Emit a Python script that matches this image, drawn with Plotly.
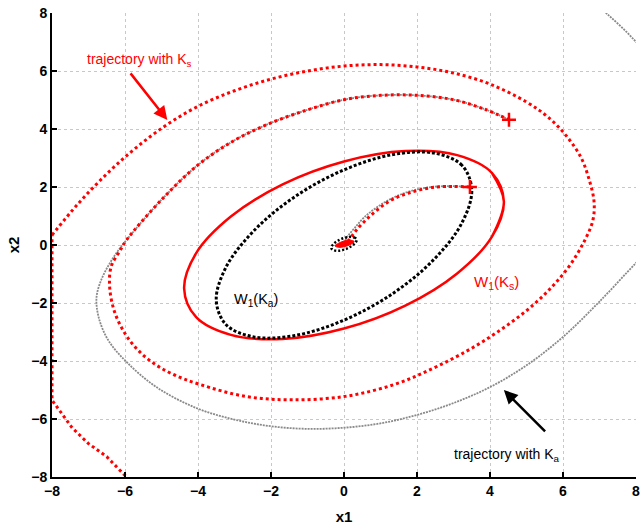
import plotly.graph_objects as go

# ---------------- data ----------------
# trajectory with Ks : clipped piece along the left border and bottom-left
ks_edge_x = [-5.80, -5.96, -6.50, -7.00, -7.45, -8.00, -8.00]
ks_edge_y = [-8.30, -8.00, -7.30, -6.85, -6.30, -5.35, 0.34]

# trajectory with Ks : outer loop (clockwise) from the left border
ks_outer_x = [-8.00, -7.30, -6.50, -5.70, -4.85, -3.97, -3.00, -2.00, -1.00, 0.00, 1.00, 2.00,
              3.00, 4.00, 5.00, 5.60, 6.10, 6.50, 6.72, 6.85, 6.82, 6.60, 6.10, 5.20, 3.84,
              2.56, 1.40, 0.03, -1.44, -2.70, -3.97, -4.70, -5.25, -5.70, -6.05, -6.30,
              -6.42, -6.38, -6.14]
ks_outer_y = [0.34, 1.40, 2.45, 3.35, 4.15, 4.80, 5.32, 5.72, 6.00, 6.17, 6.22, 6.14,
              5.93, 5.55, 4.93, 4.40, 3.75, 3.00, 2.24, 1.50, 0.86, 0.17, -0.85, -2.05, -3.30,
              -4.18, -4.80, -5.22, -5.34, -5.22, -4.80, -4.45, -4.05, -3.55, -2.95, -2.25,
              -1.45, -0.75, -0.20]

# shared inner arc (both trajectories) ending at the start mark
inner_x = [-5.96, -5.00, -4.00, -3.00, -2.00, -1.00, 0.00, 1.00, 2.00, 3.00, 3.84, 4.52]
inner_y = [0.17, 1.56, 2.76, 3.61, 4.21, 4.66, 5.01, 5.16, 5.16, 5.01, 4.69, 4.32]

# trajectory with Ka (grey) before it joins the inner arc
ka_x = [6.60, 7.18, 8.00, 8.70, 9.10, 9.10, 8.90, 8.50, 8.00, 7.00, 6.00, 5.00, 4.00, 3.00,
        2.00, 1.00, 0.00, -1.00, -2.00, -3.00, -4.05, -5.14, -5.96, -6.45, -6.72, -6.78,
        -6.65, -6.45, -6.22]
ka_y = [8.60, 8.00, 7.00, 5.80, 4.00, 2.00, 0.90, 0.00, -0.62, -1.95, -3.17, -4.15, -4.90,
        -5.45, -5.86, -6.15, -6.30, -6.34, -6.25, -6.02, -5.62, -4.90, -4.03, -3.30, -2.50,
        -1.80, -1.20, -0.70, -0.25]

# second pair of trajectories from the inner start mark to the origin
ks2_x = [3.45, 3.00, 2.40, 1.80, 1.30, 0.90, 0.55, 0.30, 0.12, 0.00]
ks2_y = [2.00, 2.02, 1.98, 1.80, 1.55, 1.20, 0.80, 0.45, 0.15, 0.00]
ka2_x = [3.45, 3.00, 2.40, 1.80, 1.30, 0.90, 0.55, 0.30, 0.10, 0.00, -0.10]
ka2_y = [2.00, 2.03, 2.00, 1.85, 1.60, 1.30, 0.95, 0.60, 0.30, 0.10, 0.00]

# start marks
start_x = [4.52, 3.45]
start_y = [4.32, 2.00]

# W1(Ks) ellipse (red solid), wrapped for a smooth close
w1ks_x = [4.05, 4.38, 4.05, 3.10, 1.68, 0.00, -1.68, -3.10, -4.05, -4.38, -4.05, -3.10, -1.68,
          0.00, 1.68, 3.10, 4.05, 4.38, 4.05]
w1ks_y = [0.28, 1.50, 2.49, 3.10, 3.24, 2.88, 2.09, 0.98, -0.28, -1.50, -2.49, -3.10, -3.24,
          -2.88, -2.09, -0.98, 0.28, 1.50, 2.49]

# W1(Ka) ellipse (black dotted)
w1ka_x = [3.50, 3.23, 2.47, 1.34, 0.00, -1.34, -2.47, -3.23, -3.50, -3.23, -2.47, -1.34,
          0.00, 1.34, 2.47, 3.23, 3.50]
w1ka_y = [1.90, 2.75, 3.17, 3.12, 2.59, 1.67, 0.49, -0.76, -1.90, -2.75, -3.17, -3.12,
          -2.59, -1.67, -0.49, 0.76, 1.90]

# small ellipse and red blob at the origin
small_x = [0.35, 0.30, 0.15, 0.00, -0.15, -0.30, -0.35, -0.30, -0.15, 0.00, 0.15, 0.30, 0.35]
small_y = [0.18, 0.25, 0.28, 0.24, 0.16, 0.02, -0.10, -0.17, -0.20, -0.16, -0.08, 0.06, 0.18]
blob_x = [0.28, 0.15, 0.00, -0.15, -0.25, -0.15, 0.00, 0.15, 0.28]
blob_y = [0.12, 0.17, 0.14, 0.06, -0.03, -0.08, -0.06, 0.00, 0.12]

tick_vals = [-8, -6, -4, -2, 0, 2, 4, 6, 8]

RED = "#ff0000"
GREY = "#8a8a8a"
FONT = "Liberation Sans, Arial, sans-serif"

fig = go.Figure()

def add_line(x, y, color, width, dash, shape="spline"):
    fig.add_trace(go.Scatter(x=x, y=y, mode="lines",
                             line=dict(color=color, width=width, dash=dash, shape=shape),
                             hoverinfo="skip", showlegend=False))

# grey trajectory with Ka
add_line(ka_x + inner_x, ka_y + inner_y, GREY, 1.8, "2px,1px")
add_line(ka2_x, ka2_y, GREY, 1.8, "2px,1px")

# red trajectory with Ks
add_line(ks_edge_x, ks_edge_y, RED, 3, "3px,3px", shape="linear")
add_line(ks_outer_x + inner_x, ks_outer_y + inner_y, RED, 3, "3px,3px")
add_line(ks2_x, ks2_y, RED, 3, "3px,3px")

# ellipses
add_line(w1ks_x, w1ks_y, RED, 2.5, "solid")
add_line(w1ka_x, w1ka_y, "black", 3, "3px,2px")
fig.add_trace(go.Scatter(x=blob_x, y=blob_y, mode="lines", fill="toself", fillcolor=RED,
                         line=dict(color=RED, width=1, shape="spline"),
                         hoverinfo="skip", showlegend=False))
add_line(small_x, small_y, "black", 2.5, "2px,2px")

# start marks
fig.add_trace(go.Scatter(x=start_x, y=start_y, mode="markers",
                         marker=dict(symbol="cross-thin", size=10, line=dict(color=RED, width=2.5)),
                         hoverinfo="skip", showlegend=False))

# annotations
fig.add_annotation(x=-5.6, y=6.38, text="trajectory with K<sub>s</sub>", showarrow=False,
                   font=dict(family=FONT, size=14, color=RED))
fig.add_annotation(x=-4.84, y=4.31, ax=-5.88, ay=5.97, axref="x", ayref="y", xref="x", yref="y",
                   text="", showarrow=True, arrowhead=2, arrowsize=1.1, arrowwidth=2.5, arrowcolor=RED)
fig.add_annotation(x=4.46, y=-7.24, text="trajectory with K<sub>a</sub>", showarrow=False,
                   font=dict(family=FONT, size=14, color="black"))
fig.add_annotation(x=4.38, y=-5.0, ax=5.55, ay=-6.48, axref="x", ayref="y", xref="x", yref="y",
                   text="", showarrow=True, arrowhead=2, arrowsize=1.1, arrowwidth=2.5, arrowcolor="black")
fig.add_annotation(x=4.19, y=-1.28, text="W<sub>1</sub>(K<sub>s</sub>)", showarrow=False,
                   font=dict(family=FONT, size=15, color=RED))
fig.add_annotation(x=-2.42, y=-1.9, text="W<sub>1</sub>(K<sub>a</sub>)", showarrow=False,
                   font=dict(family=FONT, size=14.5, color="black"))

axis_common = dict(range=[-8, 8], tickvals=tick_vals, showgrid=True, gridcolor="#c8c8c8",
                   griddash="dot", gridwidth=1, zeroline=False, showline=True, linecolor="black",
                   linewidth=2, ticks="inside", ticklen=5, tickwidth=1.5, tickcolor="black",
                   ticklabeloverflow="allow",
                   tickfont=dict(family=FONT, size=14, color="black", weight="bold"))

fig.update_layout(
    width=644, height=528,
    margin=dict(l=52, r=4, t=13, b=51),
    paper_bgcolor="white", plot_bgcolor="white",
    showlegend=False,
    xaxis=dict(**axis_common, title=dict(text="x1", standoff=14,
               font=dict(family=FONT, size=15, color="black", weight="bold"))),
    yaxis=dict(**axis_common, title=dict(text="x2", standoff=8,
               font=dict(family=FONT, size=15, color="black", weight="bold"))),
)

fig.write_html("out.html")
